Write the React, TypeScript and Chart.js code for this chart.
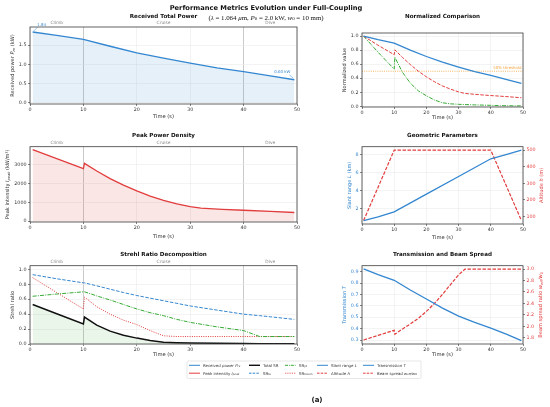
import React, { useEffect, useRef } from 'react';
import { Chart, registerables } from 'chart.js';

Chart.register(...registerables);

const FONT = '"DejaVu Sans", sans-serif';
const SERIF = '"Liberation Serif", "DejaVu Serif", serif';
const BLUE = '#3386d0';
const RED = '#e23d3d';
const GREEN = '#35ab35';
const ORANGE = '#f3a23a';
const INK = '#333333';

// ---- data ----
const timeTicks = [0, 10, 20, 30, 40, 50];
const phaseBounds = [10, 40];
const phaseNames = ['Climb', 'Cruise', 'Dive'];
const phaseMid = [5, 25, 45];

const powerT = [0.5, 5, 10, 15, 20, 25, 30, 35, 40, 45, 49.5];
const powerKW = [1.84, 1.75, 1.65, 1.47, 1.3, 1.16, 1.03, 0.91, 0.81, 0.7, 0.6];

const peakT = [0.5, 5, 10, 10.2, 12.5, 15, 17.5, 20, 22.5, 25, 27.5, 30, 32, 36, 40, 45, 49.5];
const peakKW = [3780, 3300, 2780, 3050, 2650, 2250, 1900, 1600, 1330, 1100, 920, 770, 690, 630, 580, 520, 460];

const srT = [0.5, 5, 10, 10.2, 12.5, 15, 17.5, 20, 22.5, 25, 27.5, 30, 35, 40, 43, 45, 49.5];
const srTu = [0.93, 0.875, 0.82, 0.82, 0.78, 0.735, 0.69, 0.65, 0.615, 0.58, 0.545, 0.51, 0.455, 0.4, 0.38, 0.365, 0.33];
const srJit = [0.64, 0.67, 0.7, 0.7, 0.645, 0.59, 0.53, 0.47, 0.42, 0.38, 0.33, 0.29, 0.23, 0.18, 0.1, 0.1, 0.1];
const srBloom = [0.89, 0.69, 0.47, 0.63, 0.5, 0.4, 0.32, 0.26, 0.18, 0.11, 0.1, 0.1, 0.1, 0.1, 0.1, 0.1, 0.1];
const srTotal = [0.53, 0.405, 0.27, 0.362, 0.252, 0.173, 0.117, 0.079, 0.046, 0.024, 0.018, 0.015, 0.01, 0.007, 0.004, 0.004, 0.003];

const normPower = [1.0, 0.95, 0.9, 0.8, 0.71, 0.63, 0.56, 0.495, 0.44, 0.38, 0.326];
const normPeak = [1.0, 0.87, 0.735, 0.805, 0.7, 0.595, 0.5, 0.42, 0.35, 0.29, 0.245, 0.205, 0.183, 0.167, 0.153, 0.138, 0.122];
const normSR = [1.0, 0.77, 0.53, 0.7, 0.49, 0.33, 0.22, 0.15, 0.09, 0.05, 0.035, 0.028, 0.02, 0.014, 0.009, 0.008, 0.006];
const threshold = 0.5;

const slantT = [0.5, 5, 10, 20, 30, 40, 45, 49.5];
const slantKm = [0.63, 1.05, 1.6, 3.57, 5.53, 7.5, 8.0, 8.45];
const altT = [0.5, 10, 40, 49.5];
const altM = [75, 500, 500, 75];

const transT = [0.5, 5, 10, 15, 20, 25, 30, 35, 40, 45, 49.5];
const trans = [0.925, 0.875, 0.825, 0.74, 0.66, 0.58, 0.51, 0.455, 0.405, 0.35, 0.295];
const spreadT = [0.5, 5, 10, 10.2, 12.5, 15, 17.5, 20, 22.5, 25, 27.5, 30, 32, 40, 49.5];
const spread = [1.76, 1.84, 1.93, 1.86, 1.95, 2.04, 2.14, 2.26, 2.4, 2.56, 2.73, 2.9, 3.0, 3.0, 3.0];

const pts = (xs: number[], ys: number[]) => xs.map((x, i) => ({ x, y: ys[i] }));

// ---- rich text (italics / subscripts) ----
// 0 plain, 1 italic, 2 italic subscript, 4 upright subscript
type Seg = [string, number];

function segFont(k: number, size: number) {
  const sub = k === 2 || k === 4;
  return `${k === 1 || k === 2 ? 'italic ' : ''}${sub ? size * 0.7 : size}px ${FONT}`;
}

function drawRich(ctx: CanvasRenderingContext2D, segs: Seg[], x: number, y: number, size: number, color: string, angle: number) {
  ctx.save();
  ctx.translate(x, y);
  ctx.rotate(angle);
  ctx.fillStyle = color;
  ctx.textBaseline = 'middle';
  ctx.textAlign = 'left';
  let w = 0;
  for (const [t, k] of segs) {
    ctx.font = segFont(k, size);
    w += ctx.measureText(t).width;
  }
  let cx = -w / 2;
  for (const [t, k] of segs) {
    ctx.font = segFont(k, size);
    ctx.fillText(t, cx, k === 2 || k === 4 ? size * 0.28 : 0);
    cx += ctx.measureText(t).width;
  }
  ctx.restore();
}

function svgRich(segs: Seg[], size: number) {
  let off = 0;
  return segs.map(([t, k], i) => {
    const sub = k === 2 || k === 4;
    const target = sub ? size * 0.28 : 0;
    const dy = target - off;
    off = target;
    return (
      <tspan key={i} dy={dy} fontSize={sub ? size * 0.7 : size} fontStyle={k === 1 || k === 2 ? 'italic' : 'normal'}>
        {t}
      </tspan>
    );
  });
}

// ---- panels ----
type Axis = { min: number; max: number; ticks: number[]; digits: number; color?: string; title: Seg[]; titleX: number };
type Spec = {
  left: number; top: number; width: number; height: number;
  area: [number, number, number, number]; // l, t, r, b inside the canvas
  title: string; titleY: number; xTitleY: number; phases: boolean;
  y: Axis; y2?: Axis;
  datasets: any[];
  extra?: (chart: any) => void;
};

const line = (data: any, color: string, width: number, dash: number[] = [], more: any = {}) => ({
  data, borderColor: color, borderWidth: width, borderDash: dash, pointRadius: 0, tension: 0, fill: false, ...more,
});

const DASH = [3.5, 1.5];
const DASHDOT = [4, 1.2, 1, 1.2];
const DOT = [1, 1.3];

const specs: Spec[] = [
  {
    left: 0, top: 0, width: 305, height: 125, area: [30, 27, 297, 104],
    title: 'Received Total Power', titleY: 17, xTitleY: 117, phases: true,
    y: { min: -0.03, max: 1.97, ticks: [0, 0.5, 1, 1.5], digits: 1, title: [['Received power ', 0], ['P', 1], ['rx', 2], [' (kW)', 0]], titleX: 13 },
    datasets: [line(pts(powerT, powerKW), BLUE, 1.3, [], { fill: 'origin', backgroundColor: 'rgba(51,134,208,0.12)' })],
    extra: (chart) => {
      const { ctx, scales } = chart;
      const n = powerT.length - 1;
      const x0 = scales.x.getPixelForValue(powerT[0]);
      const y0 = scales.y.getPixelForValue(powerKW[0]);
      const x1 = scales.x.getPixelForValue(powerT[n]);
      const y1 = scales.y.getPixelForValue(powerKW[n]);
      ctx.save();
      ctx.fillStyle = BLUE;
      ctx.strokeStyle = BLUE;
      ctx.lineWidth = 0.5;
      ctx.font = `3.9px ${FONT}`;
      ctx.textAlign = 'center';
      ctx.textBaseline = 'middle';
      ctx.fillText(powerKW[0].toFixed(2), x0 + 9, y0 - 7);
      ctx.fillText(`${powerKW[n].toFixed(2)} kW`, x1 - 12, y1 - 7.5);
      ctx.beginPath();
      ctx.moveTo(x0 + 5, y0 - 5);
      ctx.lineTo(x0 + 1, y0 - 1);
      ctx.moveTo(x1 - 5, y1 - 5);
      ctx.lineTo(x1 - 1, y1 - 1.5);
      ctx.stroke();
      ctx.restore();
    },
  },
  {
    left: 305, top: 0, width: 245, height: 125, area: [57, 33, 218, 107],
    title: 'Normalized Comparison', titleY: 17, xTitleY: 117.5, phases: false,
    y: { min: -0.01, max: 1.045, ticks: [0, 0.2, 0.4, 0.6, 0.8, 1], digits: 1, title: [['Normalized value', 0]], titleX: 345 },
    datasets: [
      line(pts(powerT, normPower), BLUE, 1.3),
      line(pts(peakT, normPeak), RED, 1.0, DASH),
      line(pts(srT, normSR), GREEN, 1.0, DASHDOT),
      line(pts([0, 50], [threshold, threshold]), ORANGE, 0.8, [1, 1.2]),
    ],
    extra: (chart) => {
      const { ctx, scales, chartArea } = chart;
      ctx.save();
      ctx.fillStyle = ORANGE;
      ctx.font = `3.9px ${FONT}`;
      ctx.textAlign = 'right';
      ctx.textBaseline = 'bottom';
      ctx.fillText('50% threshold', chartArea.right - 1.5, scales.y.getPixelForValue(threshold) - 1.2);
      ctx.restore();
    },
  },
  {
    left: 0, top: 125, width: 305, height: 120, area: [30, 21.7, 297, 97],
    title: 'Peak Power Density', titleY: 136, xTitleY: 237, phases: true,
    y: { min: -40, max: 3930, ticks: [0, 1000, 2000, 3000], digits: 0, title: [['Peak intensity ', 0], ['I', 1], ['peak', 2], [' (kW/m²)', 0]], titleX: 8 },
    datasets: [line(pts(peakT, peakKW), RED, 1.3, [], { fill: 'origin', backgroundColor: 'rgba(226,61,61,0.13)' })],
  },
  {
    left: 305, top: 125, width: 245, height: 120, area: [57, 21.7, 218, 99],
    title: 'Geometric Parameters', titleY: 136, xTitleY: 237.5, phases: false,
    y: { min: 0.26, max: 8.84, ticks: [2, 4, 6, 8], digits: 0, color: BLUE, title: [['Slant range ', 0], ['L', 1], [' (km)', 0]], titleX: 350 },
    y2: { min: 54, max: 521, ticks: [100, 200, 300, 400, 500], digits: 0, color: RED, title: [['Altitude ', 0], ['h', 1], [' (m)', 0]], titleX: 542 },
    datasets: [
      line(pts(slantT, slantKm), BLUE, 1.3, [], { yAxisID: 'y' }),
      line(pts(altT, altM), RED, 1.2, DASH, { yAxisID: 'y2' }),
    ],
  },
  {
    left: 0, top: 245, width: 305, height: 115, area: [30, 20.7, 297, 99],
    title: 'Strehl Ratio Decomposition', titleY: 255, xTitleY: 355, phases: true,
    y: { min: 0, max: 1.05, ticks: [0, 0.2, 0.4, 0.6, 0.8, 1], digits: 1, title: [['Strehl ratio', 0]], titleX: 13 },
    datasets: [
      line(pts(srT, srTu), BLUE, 1.0, DASH),
      line(pts(srT, srJit), GREEN, 1.0, DASHDOT),
      line(pts(srT, srBloom), RED, 1.0, DOT),
      line(pts(srT, srTotal), '#111111', 1.5, [], { fill: 'origin', backgroundColor: 'rgba(53,171,53,0.1)' }),
    ],
  },
  {
    left: 305, top: 245, width: 245, height: 115, area: [57, 20.7, 218, 99],
    title: 'Transmission and Beam Spread', titleY: 255, xTitleY: 355, phases: false,
    y: { min: 0.265, max: 0.953, ticks: [0.3, 0.4, 0.5, 0.6, 0.7, 0.8, 0.9], digits: 1, color: BLUE, title: [['Transmission ', 0], ['T', 1]], titleX: 345 },
    y2: { min: 1.69, max: 3.06, ticks: [1.8, 2.0, 2.2, 2.4, 2.6, 2.8, 3.0], digits: 1, color: RED, title: [['Beam spread ratio ', 0], ['w', 1], ['eff', 2], ['/', 1], ['w', 1], ['0', 4]], titleX: 541 },
    datasets: [
      line(pts(transT, trans), BLUE, 1.3, [], { yAxisID: 'y' }),
      line(pts(spreadT, spread), RED, 1.2, DASH, { yAxisID: 'y2' }),
    ],
  },
];

function makeConfig(s: Spec): any {
  const [l, t, r, b] = s.area;
  const tickFont = { family: FONT, size: 4.8 };
  const yScale = (a: Axis, pos: 'left' | 'right', onArea: boolean, w: number) => ({
    type: 'linear',
    position: pos,
    min: a.min,
    max: a.max,
    afterBuildTicks: (sc: any) => { sc.ticks = a.ticks.map((v) => ({ value: v })); },
    afterFit: (sc: any) => { sc.width = w; },
    ticks: { font: tickFont, color: a.color ?? INK, padding: 1.5, callback: (v: any) => Number(v).toFixed(a.digits) },
    grid: { display: true, drawOnChartArea: onArea, color: '#ebebeb', lineWidth: 0.6, tickLength: 2, tickColor: INK, tickWidth: 0.6 },
    border: { display: false },
  });

  const scales: any = {
    x: {
      type: 'linear',
      min: 0,
      max: 50,
      afterBuildTicks: (sc: any) => { sc.ticks = timeTicks.map((v) => ({ value: v })); },
      afterFit: (sc: any) => { sc.height = s.height - b; },
      ticks: { font: tickFont, color: INK, padding: 1, maxRotation: 0, autoSkip: false, callback: (v: any) => String(v) },
      grid: {
        color: (c: any) => (s.phases && c.tick && phaseBounds.includes(c.tick.value) ? '#bdbdbd' : '#ebebeb'),
        lineWidth: (c: any) => (s.phases && c.tick && phaseBounds.includes(c.tick.value) ? 0.8 : 0.6),
        tickLength: 2,
        tickColor: INK,
        tickWidth: 0.6,
      },
      border: { display: false },
    },
    y: yScale(s.y, 'left', true, l),
  };
  if (s.y2) scales.y2 = yScale(s.y2, 'right', false, s.width - r);

  const decor = {
    id: 'decor',
    afterDraw(chart: any) {
      const { ctx, chartArea: ca } = chart;
      ctx.save();
      ctx.strokeStyle = '#3c3c3c';
      ctx.lineWidth = 0.8;
      ctx.strokeRect(ca.left, ca.top, ca.right - ca.left, ca.bottom - ca.top);

      ctx.fillStyle = '#111';
      ctx.font = `bold 5.6px ${FONT}`;
      ctx.textAlign = 'center';
      ctx.textBaseline = 'middle';
      ctx.fillText(s.title, (ca.left + ca.right) / 2, s.titleY - s.top);

      if (s.phases) {
        ctx.font = `4.4px ${FONT}`;
        ctx.fillStyle = '#8a8a8a';
        phaseMid.forEach((m, i) => ctx.fillText(phaseNames[i], chart.scales.x.getPixelForValue(m), ca.top - 4));
      }
      ctx.restore();

      drawRich(ctx, [['Time (s)', 0]], (ca.left + ca.right) / 2, s.xTitleY - s.top, 5.2, INK, 0);
      const cy = (ca.top + ca.bottom) / 2;
      drawRich(ctx, s.y.title, s.y.titleX - s.left, cy, 5.1, s.y.color ?? INK, -Math.PI / 2);
      if (s.y2) drawRich(ctx, s.y2.title, s.y2.titleX - s.left, cy, 5.1, s.y2.color ?? INK, -Math.PI / 2);
      if (s.extra) s.extra(chart);
    },
  };

  return {
    type: 'line',
    data: { datasets: s.datasets },
    options: {
      animation: false,
      responsive: false,
      parsing: false,
      layout: { padding: { left: 0, top: t, right: s.y2 ? 0 : s.width - r, bottom: 0 } },
      plugins: { legend: { display: false }, tooltip: { enabled: false }, title: { display: false } },
      scales,
    },
    plugins: [decor],
  };
}

function Panel({ spec }: { spec: Spec }) {
  const ref = useRef<HTMLCanvasElement | null>(null);

  useEffect(() => {
    if (!ref.current) return;
    const chart = new Chart(ref.current, makeConfig(spec));
    return () => {
      chart.destroy();
    };
  }, [spec]);

  return (
    <canvas
      ref={ref}
      width={spec.width}
      height={spec.height}
      style={{ position: 'absolute', left: spec.left, top: spec.top, width: spec.width, height: spec.height, display: 'block' }}
    />
  );
}

// ---- legend ----
const legendX = [189, 249, 285, 317, 363];
const legendRowY = [365.3, 373.2];
const legendItems: { col: number; row: number; color: string; w: number; dash: string; label: Seg[] }[] = [
  { col: 0, row: 0, color: BLUE, w: 1, dash: '', label: [['Received power ', 0], ['P', 1], ['rx', 2]] },
  { col: 0, row: 1, color: RED, w: 1, dash: '', label: [['Peak intensity ', 0], ['I', 1], ['peak', 2]] },
  { col: 1, row: 0, color: '#111111', w: 1.4, dash: '', label: [['Total SR', 0]] },
  { col: 1, row: 1, color: BLUE, w: 1, dash: '2.5 1.2', label: [['SR', 0], ['tu', 4]] },
  { col: 2, row: 0, color: GREEN, w: 1, dash: '3 1 0.8 1', label: [['SR', 0], ['jit', 4]] },
  { col: 2, row: 1, color: RED, w: 1, dash: '0.8 1', label: [['SR', 0], ['bloom', 4]] },
  { col: 3, row: 0, color: BLUE, w: 1, dash: '', label: [['Slant range ', 0], ['L', 1]] },
  { col: 3, row: 1, color: RED, w: 1, dash: '2.5 1.2', label: [['Altitude ', 0], ['h', 1]] },
  { col: 4, row: 0, color: BLUE, w: 1, dash: '', label: [['Transmission ', 0], ['T', 1]] },
  { col: 4, row: 1, color: RED, w: 1, dash: '2.5 1.2', label: [['Beam spread ', 0], ['w', 1], ['eff', 2], ['/', 1], ['w', 1], ['0', 4]] },
];

const subtitle: Seg[] = [
  ['(', 0], ['λ', 1], [' = 1.064 ', 0], ['μ', 1], ['m, ', 0], ['P', 1], ['0', 4], [' = 2.0 kW, ', 0], ['w', 1], ['0', 4], [' = 10 mm)', 0],
];

export default function App() {
  return (
    <div style={{ position: 'absolute', left: 0, top: 0, width: 550, height: 407, background: '#fff', overflow: 'hidden' }}>
      {specs.map((s, i) => (
        <Panel key={i} spec={s} />
      ))}
      <svg width={550} height={407} style={{ position: 'absolute', left: 0, top: 0, pointerEvents: 'none', whiteSpace: 'pre' }}>
        <text x={266} y={8} textAnchor="middle" dominantBaseline="central" fontFamily={FONT} fontWeight="bold" fontSize={6.7} fill="#111">
          Performance Metrics Evolution under Full-Coupling
        </text>
        <text x={266} y={16.5} textAnchor="middle" dominantBaseline="central" fontFamily={SERIF} fontSize={6.9} fill="#111">
          {svgRich(subtitle, 6.9)}
        </text>

        <rect x={187} y={361} width={234} height={17.5} rx={1} fill="#fff" stroke="#cfcfcf" strokeWidth={0.5} />
        {legendItems.map((it, i) => {
          const x = legendX[it.col];
          const y = legendRowY[it.row];
          return (
            <g key={i}>
              <line x1={x} x2={x + 11} y1={y} y2={y} stroke={it.color} strokeWidth={it.w} strokeDasharray={it.dash || undefined} />
              <text x={x + 14} y={y} dominantBaseline="central" fontFamily={FONT} fontSize={3.9} fill={INK}>
                {svgRich(it.label, 3.9)}
              </text>
            </g>
          );
        })}

        <text x={317} y={400} textAnchor="middle" dominantBaseline="central" fontFamily={FONT} fontWeight="bold" fontSize={7} fill="#111">
          (a)
        </text>
      </svg>
    </div>
  );
}
